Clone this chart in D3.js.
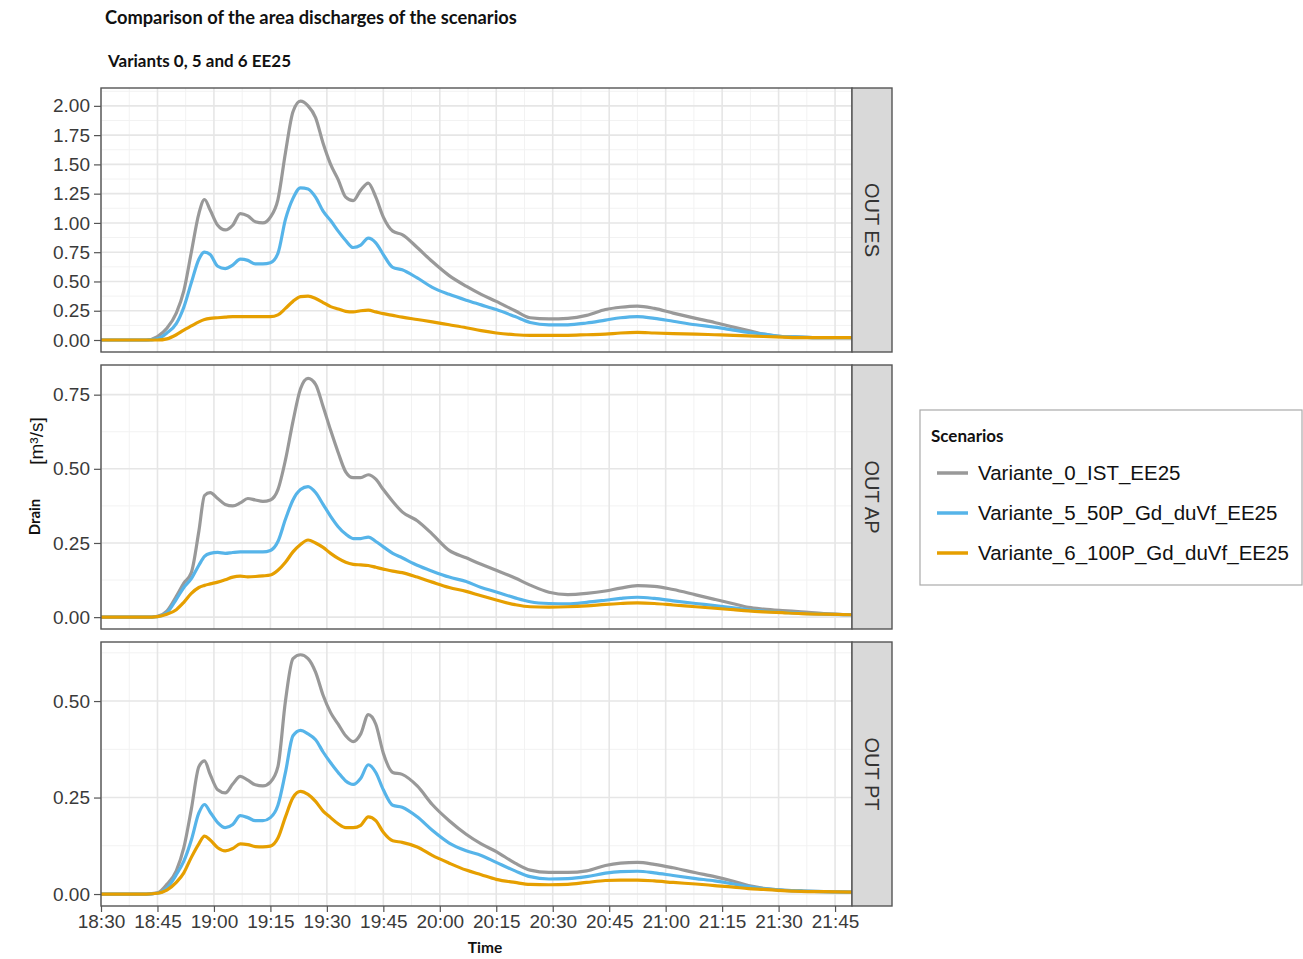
<!DOCTYPE html>
<html>
<head>
<meta charset="utf-8">
<script src="https://cdn.jsdelivr.net/npm/d3@7"></script>
<style>
  html, body { margin: 0; padding: 0; background: #fff; }
  svg { display: block; }
</style>
</head>
<body>
<svg id="chart" width="1303" height="959"></svg>
<script>
// ---------------- DATA ----------------
const times = ["18:30","18:42","18:45","18:47:30","18:50","18:52","18:54","18:56","18:57:30","18:59",
  "19:01","19:03","19:05","19:07","19:09","19:11","19:13","19:15","19:17","19:19",
  "19:21","19:23","19:25","19:27","19:29","19:31","19:33","19:35","19:37","19:39",
  "19:41","19:43","19:45","19:47:30","19:50","19:54","19:58","20:02:30","20:07","20:11",
  "20:15","20:20","20:24","20:29","20:34","20:39","20:44","20:48","20:52:30","20:57",
  "21:02","21:08","21:13","21:18","21:22","21:26","21:31","21:36","21:42","21:49:30"];

const scenarios = ["Variante_0_IST_EE25", "Variante_5_50P_Gd_duVf_EE25", "Variante_6_100P_Gd_duVf_EE25"];
const panels = ["OUT ES", "OUT AP", "OUT PT"];

// OUT ES
const es_v0 = [0,0,0.03,0.1,0.23,0.42,0.75,1.08,1.2,1.11,
  0.98,0.94,0.98,1.08,1.06,1.01,1.0,1.05,1.2,1.6,
  1.95,2.04,2.0,1.9,1.68,1.5,1.37,1.22,1.19,1.28,
  1.34,1.22,1.05,0.93,0.9,0.79,0.67,0.55,0.46,0.39,
  0.33,0.25,0.19,0.18,0.185,0.21,0.26,0.28,0.29,0.27,
  0.23,0.185,0.15,0.11,0.08,0.05,0.03,0.025,0.02,0.02];
const es_v5 = [0,0,0.01,0.06,0.14,0.28,0.49,0.69,0.75,0.73,
  0.63,0.61,0.64,0.69,0.68,0.65,0.65,0.66,0.74,1.03,
  1.21,1.3,1.29,1.22,1.1,1.02,0.93,0.85,0.79,0.81,
  0.87,0.83,0.73,0.62,0.6,0.53,0.45,0.39,0.34,0.3,
  0.26,0.2,0.15,0.13,0.13,0.145,0.17,0.19,0.2,0.185,
  0.16,0.13,0.11,0.085,0.065,0.05,0.03,0.025,0.02,0.02];
const es_v6 = [0,0,0,0.01,0.045,0.085,0.12,0.155,0.175,0.185,
  0.19,0.195,0.2,0.2,0.2,0.2,0.2,0.2,0.215,0.27,
  0.33,0.37,0.375,0.355,0.32,0.285,0.265,0.245,0.24,0.25,
  0.255,0.24,0.225,0.21,0.195,0.175,0.155,0.13,0.105,0.08,
  0.06,0.045,0.04,0.04,0.04,0.045,0.05,0.06,0.065,0.06,
  0.055,0.05,0.045,0.04,0.035,0.03,0.025,0.02,0.02,0.02];

// OUT AP
const ap_v0 = [0,0,0.003,0.02,0.07,0.115,0.15,0.29,0.41,0.42,
  0.4,0.38,0.375,0.385,0.4,0.395,0.39,0.395,0.43,0.53,
  0.66,0.77,0.805,0.785,0.71,0.63,0.555,0.49,0.47,0.47,
  0.48,0.465,0.43,0.39,0.355,0.325,0.28,0.225,0.2,0.178,
  0.158,0.132,0.108,0.084,0.076,0.08,0.088,0.098,0.106,0.104,
  0.093,0.075,0.06,0.045,0.033,0.027,0.022,0.018,0.012,0.008];
const ap_v5 = [0,0,0.002,0.015,0.06,0.1,0.13,0.175,0.205,0.215,
  0.218,0.215,0.218,0.22,0.22,0.22,0.22,0.225,0.255,0.33,
  0.395,0.43,0.44,0.42,0.38,0.34,0.305,0.28,0.265,0.265,
  0.27,0.255,0.237,0.215,0.2,0.175,0.155,0.135,0.12,0.1,
  0.085,0.065,0.052,0.046,0.045,0.05,0.057,0.063,0.067,0.063,
  0.055,0.046,0.039,0.031,0.025,0.02,0.016,0.013,0.01,0.008];
const ap_v6 = [0,0,0.002,0.01,0.025,0.05,0.08,0.1,0.107,0.112,
  0.118,0.126,0.135,0.138,0.136,0.137,0.139,0.142,0.158,0.185,
  0.22,0.245,0.26,0.25,0.235,0.215,0.198,0.185,0.178,0.176,
  0.174,0.168,0.162,0.155,0.15,0.135,0.118,0.1,0.087,0.072,
  0.058,0.042,0.035,0.034,0.035,0.038,0.043,0.046,0.048,0.046,
  0.041,0.035,0.03,0.025,0.021,0.018,0.015,0.012,0.01,0.008];

// OUT PT
const pt_v0 = [0,0,0.003,0.025,0.06,0.12,0.22,0.33,0.345,0.31,
  0.27,0.262,0.285,0.305,0.295,0.283,0.28,0.29,0.33,0.5,
  0.61,0.62,0.61,0.575,0.515,0.47,0.44,0.41,0.395,0.415,
  0.465,0.44,0.365,0.315,0.31,0.28,0.232,0.19,0.155,0.13,
  0.11,0.08,0.062,0.056,0.056,0.06,0.074,0.08,0.082,0.077,
  0.068,0.055,0.045,0.033,0.022,0.015,0.01,0.008,0.006,0.005];
const pt_v5 = [0,0,0.002,0.015,0.05,0.085,0.14,0.21,0.232,0.212,
  0.185,0.172,0.18,0.203,0.198,0.19,0.19,0.198,0.23,0.315,
  0.41,0.424,0.415,0.4,0.368,0.34,0.315,0.293,0.284,0.3,
  0.335,0.315,0.27,0.23,0.225,0.2,0.165,0.132,0.112,0.1,
  0.082,0.06,0.045,0.039,0.04,0.045,0.054,0.058,0.059,0.055,
  0.048,0.04,0.034,0.026,0.019,0.014,0.01,0.008,0.006,0.005];
const pt_v6 = [0,0,0.002,0.01,0.03,0.055,0.095,0.13,0.15,0.14,
  0.12,0.112,0.118,0.13,0.128,0.123,0.122,0.124,0.145,0.2,
  0.25,0.266,0.258,0.24,0.215,0.198,0.182,0.172,0.172,0.178,
  0.2,0.19,0.16,0.138,0.134,0.122,0.1,0.08,0.062,0.05,
  0.038,0.03,0.025,0.024,0.025,0.03,0.035,0.036,0.036,0.034,
  0.03,0.026,0.022,0.018,0.014,0.012,0.009,0.007,0.006,0.005];

const xTickLabels = ["18:30","18:45","19:00","19:15","19:30","19:45","20:00","20:15","20:30","20:45","21:00","21:15","21:30","21:45"];
const esTicks = [0, 0.25, 0.5, 0.75, 1.0, 1.25, 1.5, 1.75, 2.0];
const apTicks = [0, 0.25, 0.5, 0.75];
const ptTicks = [0, 0.25, 0.5];

const colors = ["#999999", "#56B4E9", "#E69F00"];

// ---------------- HELPERS ----------------
const parseT = s => {
  const p = s.split(":").map(Number);
  return new Date(2020, 0, 1, p[0], p[1], p[2] || 0);
};
const dates = times.map(parseT);

const panelDefs = [
  { name: panels[0], series: [es_v0, es_v5, es_v6], ticks: esTicks, domain: [-0.1025, 2.1525] },
  { name: panels[1], series: [ap_v0, ap_v5, ap_v6], ticks: apTicks, domain: [-0.04, 0.85] },
  { name: panels[2], series: [pt_v0, pt_v5, pt_v6], ticks: ptTicks, domain: [-0.031, 0.653] }
];

const svg = d3.select("#chart");
const left = 101, right = 852, stripW = 40;
const panelTops = [88, 365, 642], panelH = 264;
const fontSans = "'Liberation Sans', Arial, sans-serif";
const fontBold = "Lato, 'Open Sans', sans-serif";

const x = d3.scaleTime()
  .domain([parseT("18:30"), parseT("21:49:30")])
  .range([left, right]);

const xMajor = xTickLabels.map(parseT);
const xMinor = xMajor.map(d => new Date(+d + 7.5 * 60000)).filter(d => d <= x.domain()[1]);

// ---------------- TITLES ----------------
svg.append("text").attr("x", 105).attr("y", 24)
  .style("font-family", fontBold).style("font-weight", "bold")
  .style("font-size", "18.3px").attr("fill", "#111")
  .text("Comparison of the area discharges of the scenarios");
svg.append("text").attr("x", 108).attr("y", 67)
  .style("font-family", fontBold).style("font-weight", "bold")
  .style("font-size", "17px").attr("fill", "#111")
  .text("Variants 0, 5 and 6 EE25");

// ---------------- PANELS ----------------
panelDefs.forEach((pd, i) => {
  const top = panelTops[i], bottom = top + panelH;
  const y = d3.scaleLinear().domain(pd.domain).range([bottom, top]);
  const g = svg.append("g");

  g.append("rect").attr("x", left).attr("y", top).attr("width", right - left).attr("height", panelH)
    .attr("fill", "#fff");

  // minor grid
  const yMinor = pd.ticks.map(t => t + 0.125).filter(m => m < pd.domain[1]);
  g.selectAll(".ymin").data(yMinor).join("line")
    .attr("x1", left).attr("x2", right).attr("y1", d => y(d)).attr("y2", d => y(d))
    .attr("stroke", "#f2f2f2").attr("stroke-width", 1);
  g.selectAll(".xmin").data(xMinor).join("line")
    .attr("y1", top).attr("y2", bottom).attr("x1", d => x(d)).attr("x2", d => x(d))
    .attr("stroke", "#f2f2f2").attr("stroke-width", 1);
  // major grid
  g.selectAll(".ymaj").data(pd.ticks).join("line")
    .attr("x1", left).attr("x2", right).attr("y1", d => y(d)).attr("y2", d => y(d))
    .attr("stroke", "#e6e6e6").attr("stroke-width", 1.6);
  g.selectAll(".xmaj").data(xMajor).join("line")
    .attr("y1", top).attr("y2", bottom).attr("x1", d => x(d)).attr("x2", d => x(d))
    .attr("stroke", "#e6e6e6").attr("stroke-width", 1.6);

  // lines
  const clipId = "clip" + i;
  svg.append("clipPath").attr("id", clipId).append("rect")
    .attr("x", left).attr("y", top).attr("width", right - left).attr("height", panelH);
  const line = d3.line().x((d, j) => x(dates[j])).y(d => y(d)).curve(d3.curveMonotoneX);
  pd.series.forEach((s, k) => {
    g.append("path").datum(s).attr("d", line)
      .attr("fill", "none").attr("stroke", colors[k]).attr("stroke-width", 3.2)
      .attr("stroke-linejoin", "round").attr("clip-path", `url(#${clipId})`);
  });

  // border
  g.append("rect").attr("x", left).attr("y", top).attr("width", right - left).attr("height", panelH)
    .attr("fill", "none").attr("stroke", "#555").attr("stroke-width", 1.4);

  // y axis
  const yAxis = d3.axisLeft(y).tickValues(pd.ticks).tickFormat(d3.format(".2f")).tickSize(7).tickPadding(4);
  const ya = g.append("g").attr("transform", `translate(${left},0)`).call(yAxis);
  ya.select(".domain").remove();
  ya.selectAll(".tick line").attr("stroke", "#555").attr("stroke-width", 1.2);
  ya.selectAll(".tick text").style("font-family", fontSans).style("font-size", "19px").attr("fill", "#3a3a3a");

  // strip
  g.append("rect").attr("x", right).attr("y", top).attr("width", stripW).attr("height", panelH)
    .attr("fill", "#d9d9d9").attr("stroke", "#555").attr("stroke-width", 1.4);
  g.append("text")
    .attr("transform", `translate(${right + stripW / 2},${top + panelH / 2}) rotate(90)`)
    .attr("text-anchor", "middle").attr("dy", "0.35em")
    .style("font-family", fontSans).style("font-size", "20px").attr("fill", "#333")
    .text(pd.name);

  if (i === panelDefs.length - 1) {
    const xAxis = d3.axisBottom(x).tickValues(xMajor).tickFormat(d3.timeFormat("%H:%M")).tickSize(6).tickPadding(3);
    const xa = g.append("g").attr("transform", `translate(0,${bottom})`).call(xAxis);
    xa.select(".domain").remove();
    xa.selectAll(".tick line").attr("stroke", "#555").attr("stroke-width", 1.2);
    xa.selectAll(".tick text").style("font-family", fontSans).style("font-size", "19px").attr("fill", "#3a3a3a");
  }
});

// ---------------- AXIS TITLES ----------------
svg.append("text")
  .attr("transform", "translate(40,517) rotate(-90)")
  .attr("text-anchor", "middle")
  .style("font-family", fontBold).style("font-weight", "bold")
  .style("font-size", "15px").attr("fill", "#111").text("Drain");
svg.append("text")
  .attr("transform", "translate(43,441) rotate(-90)")
  .attr("text-anchor", "middle")
  .style("font-family", fontSans).style("font-size", "19px").attr("fill", "#111").text("[m³/s]");

svg.append("text").attr("x", 485).attr("y", 953).attr("text-anchor", "middle")
  .style("font-family", fontBold).style("font-weight", "bold")
  .style("font-size", "15.5px").attr("fill", "#111").text("Time");

// ---------------- LEGEND ----------------
const lg = svg.append("g");
lg.append("rect").attr("x", 920).attr("y", 410).attr("width", 382).attr("height", 175)
  .attr("fill", "#fff").attr("stroke", "#aaa").attr("stroke-width", 1.2);
lg.append("text").attr("x", 931).attr("y", 442)
  .style("font-family", fontBold).style("font-weight", "bold")
  .style("font-size", "17px").attr("fill", "#111").text("Scenarios");
scenarios.forEach((s, k) => {
  const yy = 473 + k * 40;
  lg.append("line").attr("x1", 937).attr("x2", 968).attr("y1", yy).attr("y2", yy)
    .attr("stroke", colors[k]).attr("stroke-width", 3.5);
  lg.append("text").attr("x", 978).attr("y", yy).attr("dy", "0.35em")
    .style("font-family", fontSans).style("font-size", "20.5px").attr("fill", "#111").text(s);
});
</script>
</body>
</html>
